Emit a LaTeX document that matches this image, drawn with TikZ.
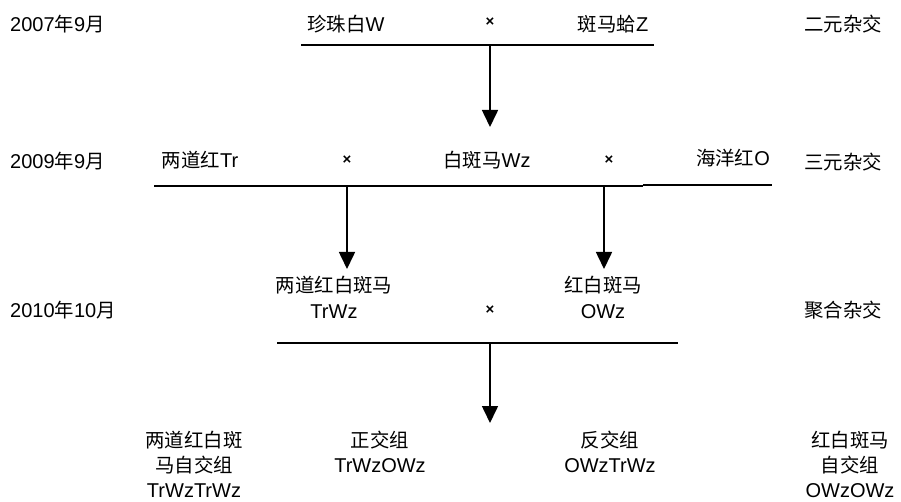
\documentclass[tikz,border=0pt]{standalone}
\usepackage{fontspec}
\setmainfont{Liberation Sans}
\newfontfamily\cjk[Scale=0.97]{Noto Sans CJK SC}
\usetikzlibrary{arrows.meta}
\begin{document}
\begin{tikzpicture}[x=1pt,y=-1pt,
  txt/.style={inner sep=0pt, font=\fontsize{20}{25}\selectfont, align=center, anchor=base},
  lbl/.style={txt, anchor=base west},
  crs/.style={inner sep=0pt, font=\fontsize{15}{15}\selectfont\bfseries},
  bar/.style={line width=1.6pt},
  arr/.style={line width=1.6pt, -{Triangle[length=17pt,width=16pt]}}]
\useasboundingbox (0,0) rectangle (901,502);

% row 1
\node[lbl] (d1) at (10,32) {2007{\cjk 年}9{\cjk 月}};
\node[txt] (w) at (346,32) {{\cjk 珍珠白}W};
\node[crs] (x1) at (490,22) {×};
\node[txt] (z) at (613,32) {{\cjk 斑马蛤}Z};
\node[txt] (t1) at (843,32) {\cjk 二元杂交};
\coordinate (l1a) at (301,45);
\coordinate (l1b) at (654,45);
\coordinate (l1m) at (490,45);
\coordinate (a1) at (490,127);
\draw[bar] (l1a) -- (l1b);
\draw[arr] (l1m) -- (a1);

% row 2
\node[lbl] (d2) at (10,169) {2009{\cjk 年}9{\cjk 月}};
\node[txt] (tr) at (200,168) {{\cjk 两道红}Tr};
\node[crs] (x2) at (347,160) {×};
\node[txt] (wz) at (487,168) {{\cjk 白斑马}Wz};
\node[crs] (x3) at (609,160) {×};
\node[txt] (o) at (733,166) {{\cjk 海洋红}O};
\node[txt] (t2) at (843,170) {\cjk 三元杂交};
\coordinate (l2a) at (154,186);
\coordinate (l2c) at (643,186);
\coordinate (l2d) at (643,185);
\coordinate (l2b) at (772,185);
\coordinate (l2m) at (347,186);
\coordinate (l2n) at (604,186);
\coordinate (a2) at (347,269);
\coordinate (a3) at (604,269);
\draw[bar] (l2a) -- (l2c);
\draw[bar] (l2d) -- (l2b);
\draw[arr] (l2m) -- (a2);
\draw[arr] (l2n) -- (a3);

% row 3
\node[lbl] (d3) at (10,317) {2010{\cjk 年}10{\cjk 月}};
\node[txt] (trwz) at (334,318) {{\cjk 两道红白斑马}\\TrWz};
\node[crs] (x4) at (490,310) {×};
\node[txt] (owz) at (603,318) {{\cjk 红白斑马}\\OWz};
\node[txt] (t3) at (843,317) {\cjk 聚合杂交};
\coordinate (l3a) at (277,343);
\coordinate (l3b) at (678,343);
\coordinate (l3m) at (490,343);
\coordinate (a4) at (490,423);
\draw[bar] (l3a) -- (l3b);
\draw[arr] (l3m) -- (a4);

% row 4
\node[txt] (g1) at (194,497) {{\cjk 两道红白斑}\\{\cjk 马自交组}\\TrWzTrWz};
\node[txt] (g2) at (380,472) {{\cjk 正交组}\\TrWzOWz};
\node[txt] (g3) at (610,472) {{\cjk 反交组}\\OWzTrWz};
\node[txt] (g4) at (850,497) {{\cjk 红白斑马}\\{\cjk 自交组}\\OWzOWz};
\end{tikzpicture}
\end{document}
